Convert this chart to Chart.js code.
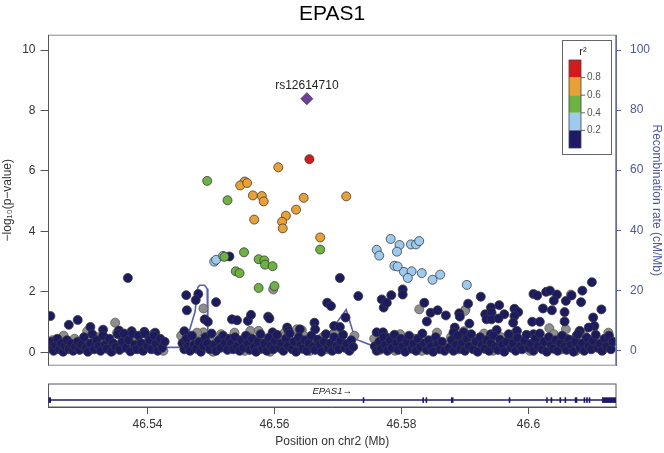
<!DOCTYPE html>
<html><head><meta charset="utf-8">
<script src="https://cdn.jsdelivr.net/npm/chart.js@4.4.1/dist/chart.umd.min.js"></script>
<style>
html,body{margin:0;padding:0;background:#fff;width:664px;height:453px;overflow:hidden}
#main{position:absolute;left:0;top:0}
#gene{position:absolute;left:0;top:372px}
</style></head><body>
<canvas id="main" width="664" height="372"></canvas>
<canvas id="gene" width="664" height="81"></canvas>
<script>
// ---------- axis ranges / ticks ----------
const xMin = 46.5244, xMax = 46.6138;
const xTicks = [46.54, 46.56, 46.58, 46.6];
const pTicks = [0, 2, 4, 6, 8, 10];
const recTicks = [0, 20, 40, 60, 80, 100];
const pMin = -0.426, pMax = 10.49;
const recMin = -4.95, recMax = 104.95;

// ---------- legend key ----------
const ldBreaks = [0.8, 0.6, 0.4, 0.2];
const ldColors = ['#D7191C', '#EBA033', '#6DB33F', '#9DCBF0', '#1E1A66'];

// ---------- lead SNP ----------
const leadName = 'rs12614710';
const leadSnp = [[46.5651, 8.39]];

// ---------- SNPs by LD bin: [position Mb, -log10 p] ----------
const redSnps = [[46.5655, 6.39]];
const orangeSnps = [[46.5606,6.12],[46.5553,5.65],[46.5546,5.52],[46.5557,5.60],[46.5566,5.19],[46.5580,5.17],[46.5583,4.99],[46.5646,5.11],[46.5713,5.16],[46.5634,4.72],[46.5618,4.52],[46.5612,4.32],[46.5613,4.10],[46.5568,4.39],[46.5672,3.80]];
const greenSnps = [[46.5494,5.67],[46.5526,5.03],[46.5672,3.40],[46.5521,3.16],[46.5552,3.31],[46.5575,3.08],[46.5584,3.04],[46.5585,2.90],[46.5597,2.85],[46.5539,2.68],[46.5545,2.62],[46.5575,2.13],[46.5600,2.19]];
const lightBlueSnps = [[46.5505,3.00],[46.5508,3.06],[46.5519,3.19],[46.5783,3.75],[46.5761,3.39],[46.5765,3.20],[46.5797,3.55],[46.5793,3.33],[46.5815,3.57],[46.5823,3.57],[46.5828,3.68],[46.5789,2.86],[46.5794,2.84],[46.5804,2.66],[46.5816,2.68],[46.5810,2.46],[46.5832,2.62],[46.5849,2.40],[46.5861,2.57],[46.5903,2.23]];
const navySnps = [
[46.5247,1.20],[46.5276,0.91],[46.5290,1.07],[46.5310,0.84],[46.5369,2.46],[46.5330,0.75],[46.5355,0.72],[46.5375,0.70],[46.5395,0.68],[46.5412,0.65],
[46.5246,0.15],[46.5249,0.35],[46.5252,0.05],[46.5255,0.25],[46.5258,0.45],[46.5261,0.10],[46.5264,0.30],[46.5267,0.02],[46.5270,0.20],[46.5273,0.40],[46.5276,0.12],[46.5280,0.28],[46.5283,0.05],[46.5286,0.18],[46.5290,0.35],[46.5293,0.08],[46.5296,0.25],[46.5300,0.50],[46.5303,0.15],[46.5306,0.02],[46.5310,0.30],[46.5313,0.60],[46.5316,0.10],[46.5320,0.40],[46.5323,0.20],[46.5326,0.05],[46.5330,0.55],[46.5333,0.25],[46.5336,0.12],[46.5340,0.45],[46.5343,0.02],[46.5346,0.30],[46.5350,0.18],[46.5353,0.60],[46.5356,0.08],[46.5360,0.35],[46.5363,0.62],[46.5366,0.15],[46.5370,0.40],[46.5373,0.03],[46.5376,0.62],[46.5380,0.25],[46.5383,0.10],[46.5386,0.55],[46.5390,0.30],[46.5393,0.05],[46.5396,0.62],[46.5400,0.20],[46.5403,0.40],[46.5406,0.10],[46.5410,0.55],[46.5413,0.28],[46.5416,0.05],[46.5420,0.45],[46.5423,0.15],[46.5427,0.35],
[46.5461,1.89],[46.5480,1.93],[46.5476,1.73],[46.5462,1.39],[46.5508,1.66],[46.5490,1.09],[46.5495,1.01],[46.5458,0.70],[46.5529,3.17],
[46.5455,0.30],[46.5458,0.10],[46.5461,0.45],[46.5464,0.20],[46.5467,0.05],[46.5470,0.55],[46.5473,0.25],[46.5477,0.12],[46.5481,0.35],[46.5484,0.02],[46.5488,0.20],[46.5491,0.50],[46.5494,0.30],[46.5498,0.10],[46.5501,0.62],[46.5505,0.25],[46.5508,0.05],[46.5512,0.40],[46.5515,0.15],[46.5519,0.55],[46.5522,0.30],[46.5526,0.08],[46.5529,0.45],
[46.5533,1.09],[46.5541,1.06],[46.5558,1.04],[46.5563,1.24],[46.5590,1.18],[46.5592,1.12],[46.5683,1.64],[46.5689,1.53],[46.5703,2.46],[46.5663,0.98],[46.5620,0.82],[46.5622,0.71],[46.5597,0.66],[46.5640,0.76],[46.5664,0.76],[46.5694,0.87],[46.5703,0.84],[46.5732,1.86],[46.5712,1.15],
[46.5532,0.30],[46.5535,0.10],[46.5538,0.50],[46.5541,0.20],[46.5545,0.05],[46.5548,0.40],[46.5551,0.15],[46.5555,0.55],[46.5558,0.28],[46.5561,0.08],[46.5565,0.45],[46.5568,0.18],[46.5571,0.02],[46.5574,0.35],[46.5578,0.60],[46.5581,0.12],[46.5584,0.30],[46.5588,0.05],[46.5591,0.48],[46.5594,0.22],[46.5598,0.10],[46.5601,0.38],[46.5604,0.58],[46.5608,0.15],[46.5611,0.30],[46.5614,0.05],[46.5618,0.45],[46.5621,0.20],[46.5624,0.62],[46.5628,0.10],[46.5631,0.35],[46.5634,0.02],[46.5638,0.50],[46.5641,0.25],[46.5644,0.12],[46.5648,0.40],[46.5651,0.05],[46.5654,0.30],[46.5658,0.55],[46.5661,0.18],[46.5664,0.08],[46.5668,0.42],[46.5671,0.25],[46.5674,0.02],[46.5678,0.35],[46.5681,0.60],[46.5684,0.15],[46.5688,0.30],[46.5691,0.05],[46.5694,0.50],[46.5698,0.20],[46.5701,0.10],[46.5704,0.38],[46.5708,0.58],[46.5711,0.15],[46.5714,0.28],[46.5718,0.05],[46.5721,0.40],[46.5724,0.18],
[46.5761,0.66],[46.5771,0.66],[46.5777,0.49],[46.5769,1.75],[46.5772,1.48],[46.5777,1.64],[46.5784,1.89],[46.5802,2.08],[46.5802,1.91],[46.5836,1.64],[46.5840,1.02],[46.5846,1.31],[46.5857,1.39],[46.5870,1.22],[46.5891,1.29],[46.5892,1.18],[46.5905,1.61],[46.5925,1.84],[46.5907,0.95],[46.5884,0.82],[46.5882,0.66],[46.5898,0.66],[46.5893,0.44],
[46.5932,1.26],[46.5941,1.48],[46.5942,1.31],[46.5954,1.56],[46.5934,1.09],[46.5942,1.09],[46.5962,1.26],[46.5978,1.44],[46.5984,1.33],[46.5978,1.20],[46.5976,0.98],[46.5953,1.12],[46.5941,0.60],[46.5950,0.74],[46.5971,0.49],[46.5982,0.71],
[46.6008,1.93],[46.6014,1.88],[46.6028,2.00],[46.6034,2.04],[46.6045,1.91],[46.6040,1.71],[46.6023,1.45],[46.6037,1.39],[46.6006,1.01],[46.6018,1.01],[46.6059,1.70],[46.6057,1.33],[46.6057,1.02],[46.6068,1.88],[46.6085,2.04],[46.6100,2.32],[46.6083,1.66],[46.6115,1.42],[46.6102,1.15],[46.6104,0.87],[46.6095,0.82],[46.6008,0.60],[46.6017,0.44],[46.6061,0.44],[46.6076,0.55],[46.6081,0.71],[46.6092,0.47],
[46.5758,0.20],[46.5761,0.05],[46.5765,0.35],[46.5768,0.12],[46.5772,0.50],[46.5775,0.25],[46.5778,0.05],[46.5782,0.40],[46.5785,0.15],[46.5789,0.58],[46.5792,0.30],[46.5795,0.08],[46.5799,0.45],[46.5802,0.20],[46.5806,0.02],[46.5809,0.35],[46.5812,0.55],[46.5816,0.12],[46.5819,0.28],[46.5823,0.05],[46.5826,0.45],[46.5830,0.18],[46.5833,0.62],[46.5836,0.30],[46.5840,0.08],[46.5843,0.40],[46.5847,0.20],[46.5850,0.02],[46.5854,0.50],[46.5857,0.28],[46.5861,0.10],[46.5864,0.35],[46.5868,0.05],[46.5875,0.15],[46.5879,0.40],[46.5882,0.05],[46.5886,0.25],[46.5889,0.55],[46.5893,0.12],[46.5896,0.32],[46.5900,0.05],[46.5903,0.45],[46.5906,0.20],[46.5910,0.60],[46.5913,0.10],[46.5917,0.35],[46.5920,0.02],[46.5924,0.50],[46.5927,0.25],[46.5931,0.12],[46.5934,0.40],[46.5938,0.05],[46.5941,0.30],[46.5945,0.55],[46.5948,0.18],[46.5952,0.08],[46.5955,0.42],[46.5959,0.25],[46.5962,0.02],[46.5966,0.35],[46.5969,0.60],[46.5973,0.15],[46.5976,0.30],[46.5980,0.05],[46.5983,0.48],[46.5987,0.20],[46.5990,0.10],[46.5994,0.38],[46.5997,0.58],[46.6001,0.15],[46.6004,0.28],[46.6008,0.05],[46.6011,0.45],[46.6015,0.20],[46.6018,0.62],[46.6022,0.10],[46.6025,0.35],[46.6029,0.02],[46.6032,0.50],[46.6036,0.25],[46.6039,0.12],[46.6043,0.40],[46.6046,0.05],[46.6050,0.30],[46.6053,0.55],[46.6057,0.18],[46.6060,0.08],[46.6064,0.42],[46.6067,0.25],[46.6071,0.02],[46.6074,0.35],[46.6078,0.60],[46.6081,0.15],[46.6085,0.30],[46.6088,0.05],[46.6092,0.48],[46.6095,0.20],[46.6099,0.10],[46.6102,0.38],[46.6106,0.58],[46.6109,0.15],[46.6113,0.28],[46.6116,0.05],[46.6120,0.45],[46.6123,0.20],[46.6127,0.55],[46.6130,0.10],[46.6133,0.35]
];
const graySnps = [
[46.5349,0.98],[46.5488,1.45],[46.5488,0.66],[46.5598,2.08],[46.5828,1.42],[46.5901,1.42],[46.6067,1.91],[46.6059,0.76],[46.6033,0.80],[46.6080,0.68],[46.5307,0.71],[46.5562,0.71],[46.5575,0.71],[46.5635,0.76],[46.5643,0.73],[46.5900,1.37],
[46.5250,0.40],[46.5258,0.20],[46.5268,0.55],[46.5275,0.10],[46.5285,0.45],[46.5298,0.25],[46.5305,0.70],[46.5315,0.15],[46.5322,0.50],[46.5335,0.35],[46.5345,0.05],[46.5352,0.65],[46.5362,0.45],[46.5372,0.20],[46.5381,0.50],[46.5392,0.10],[46.5401,0.35],[46.5409,0.60],[46.5418,0.20],[46.5425,0.05],
[46.5453,0.55],[46.5466,0.35],[46.5478,0.65],[46.5486,0.20],[46.5497,0.45],[46.5503,0.02],[46.5516,0.60],[46.5525,0.25],
[46.5537,0.65],[46.5547,0.30],[46.5553,0.05],[46.5560,0.50],[46.5567,0.25],[46.5576,0.10],[46.5583,0.45],[46.5593,0.02],[46.5603,0.20],[46.5610,0.48],[46.5616,0.65],[46.5626,0.30],[46.5636,0.15],[46.5646,0.55],[46.5656,0.05],[46.5666,0.30],[46.5676,0.50],[46.5685,0.10],[46.5696,0.62],[46.5706,0.30],[46.5716,0.10],[46.5726,0.55],
[46.5757,0.45],[46.5766,0.08],[46.5779,0.30],[46.5790,0.05],[46.5798,0.60],[46.5810,0.20],[46.5821,0.45],[46.5832,0.05],[46.5845,0.30],[46.5856,0.65],[46.5866,0.20],[46.5878,0.50],[46.5890,0.10],[46.5898,0.70],[46.5909,0.35],[46.5921,0.15],[46.5930,0.62],[46.5944,0.05],[46.5957,0.50],[46.5968,0.20],[46.5979,0.65],[46.5991,0.30],[46.6002,0.05],[46.6013,0.55],[46.6027,0.20],[46.6040,0.60],[46.6052,0.10],[46.6062,0.40],[46.6075,0.05],[46.6086,0.62],[46.6097,0.25],[46.6108,0.45],[46.6118,0.10],[46.6126,0.65]
];

// ---------- recombination rate (cM/Mb) ----------
const recombPos  = [46.5244,46.5457,46.5466,46.5475,46.5479,46.5482,46.5490,46.5494,46.5495,46.5538,46.5570,46.5590,46.5606,46.5631,46.5647,46.5672,46.5685,46.5713,46.5727,46.5761,46.5871,46.6138];
const recombRate = [1.0,1.0,6.5,13.0,20.8,21.7,21.7,20.5,1.0,0.5,1.0,4.5,4.8,1.5,1.0,1.0,5.4,13.6,3.8,1.0,0.1,0.2];

// ---------- gene track ----------
const geneName = 'EPAS1';
const geneStart = 46.5244, geneEnd = 46.6138;
const exonStart = [46.5244,46.5739,46.5833,46.5838,46.5878,46.5969,46.6028,46.6035,46.6049,46.6057,46.6073,46.6087,46.6091,46.6095,46.6116];
const exonEnd   = [46.5248,46.5741,46.5835,46.5840,46.5882,46.5971,46.6030,46.6037,46.6051,46.6059,46.6077,46.6089,46.6093,46.6097,46.6138];

const FONT = "'Liberation Sans', Arial, Helvetica, sans-serif";
Chart.defaults.font.family = FONT;
Chart.defaults.color = '#333';

const toPts = arr => arr.map(p => ({x: p[0], y: p[1]}));
const NAVY_LINE = '#1E1A66';
const REC_COLOR = '#5660B8';
const noPad = s => { s.paddingTop = 0; s.paddingBottom = 0; };

function snpSet(data, color, order, extra) {
  return Object.assign({
    data: toPts(data), backgroundColor: color, borderColor: '#3a3a3a', borderWidth: 0.8,
    pointRadius: 4.5, pointHoverRadius: 4.5, order: order, yAxisID: 'y'
  }, extra || {});
}

const framePlugin = {
  id: 'frame',
  afterDatasetsDraw(chart) {
    const {ctx, chartArea: a, scales} = chart;
    ctx.save();
    ctx.strokeStyle = '#8a8a8a'; ctx.lineWidth = 1;
    ctx.strokeRect(a.left, a.top, a.right - a.left, a.bottom - a.top);
    ctx.strokeStyle = '#555'; ctx.beginPath(); ctx.moveTo(a.left, a.top); ctx.lineTo(a.left, a.bottom); ctx.stroke();
    ctx.strokeStyle = REC_COLOR; ctx.beginPath(); ctx.moveTo(a.right, a.top); ctx.lineTo(a.right, a.bottom); ctx.stroke();
    // lead SNP label
    const lx = scales.x.getPixelForValue(leadSnp[0][0]);
    const ly = scales.y.getPixelForValue(leadSnp[0][1]);
    ctx.fillStyle = '#222'; ctx.font = '12px ' + FONT; ctx.textAlign = 'center'; ctx.textBaseline = 'middle';
    ctx.fillText(leadName, lx, ly - 12.5);
    // LD legend key
    const bx = 562, by = 40, bw = 49, bh = 114;
    ctx.fillStyle = '#fff'; ctx.fillRect(bx, by, bw, bh);
    ctx.strokeStyle = '#666'; ctx.lineWidth = 1; ctx.strokeRect(bx + 0.5, by + 0.5, bw, bh);
    const cx = 569, cw = 12, cy0 = 60, ch = 17.6;
    for (let i = 0; i < ldColors.length; i++) {
      ctx.fillStyle = ldColors[i]; ctx.fillRect(cx, cy0 + i * ch, cw, ch);
    }
    ctx.strokeStyle = '#444'; ctx.lineWidth = 0.8; ctx.strokeRect(cx, cy0, cw, ch * ldColors.length);
    ctx.fillStyle = '#555'; ctx.font = '10px ' + FONT; ctx.textAlign = 'left'; ctx.textBaseline = 'middle';
    ldBreaks.forEach((v, i) => {
      const yy = cy0 + (i + 1) * ch;
      ctx.beginPath(); ctx.moveTo(cx + cw, yy); ctx.lineTo(cx + cw + 4, yy); ctx.stroke();
      ctx.fillText(v.toFixed(1), cx + cw + 6, yy);
    });
    ctx.fillStyle = '#222'; ctx.font = '11px ' + FONT; ctx.textAlign = 'center';
    ctx.fillText('r\u00B2', 583, 52);
    ctx.restore();
  }
};

new Chart(document.getElementById('main'), {
  type: 'scatter',
  data: {
    datasets: [
      snpSet(leadSnp, '#6F3FA0', 0, {pointStyle: 'rectRot', pointRadius: 6, pointHoverRadius: 6}),
      snpSet(redSnps, ldColors[0], 1),
      snpSet(orangeSnps, ldColors[1], 2),
      snpSet(greenSnps, ldColors[2], 3),
      snpSet(lightBlueSnps, ldColors[3], 4),
      snpSet(navySnps, '#1C1A62', 5),
      snpSet(graySnps, '#8E8E8E', 6, {borderColor: '#5a5a5a'}),
      {
        data: recombPos.map((p, i) => ({x: p, y: recombRate[i]})),
        showLine: true, borderColor: REC_COLOR, borderWidth: 1.6, pointRadius: 0,
        yAxisID: 'y2', order: 7, fill: false, tension: 0
      }
    ]
  },
  options: {
    responsive: false, animation: false, devicePixelRatio: 1,
    layout: {padding: {top: 0, bottom: 4, left: 0, right: 0}},
    plugins: {
      legend: {display: false}, tooltip: {enabled: false},
      title: {display: true, text: geneName, color: '#000', font: {size: 21, weight: 'normal'}, padding: {top: 2, bottom: 8}}
    },
    scales: {
      x: {type: 'linear', min: xMin, max: xMax, display: false},
      y: {
        position: 'left', min: pMin, max: pMax,
        afterBuildTicks: s => { s.ticks = pTicks.map(v => ({value: v})); },
        afterFit: s => { s.width = 48.5; noPad(s); },
        grid: {drawOnChartArea: false, drawTicks: true, tickLength: 8, color: '#555'},
        border: {display: true, color: '#555'},
        ticks: {color: '#333', font: {size: 12}, padding: 5},
        title: {display: true, text: '\u2212log\u2081\u2080(p\u2212value)', color: '#333', font: {size: 12}, padding: {top: 0, bottom: 0}}
      },
      y2: {
        position: 'right', min: recMin, max: recMax,
        afterBuildTicks: s => { s.ticks = recTicks.map(v => ({value: v})); },
        afterFit: s => { s.width = 48; noPad(s); },
        grid: {drawOnChartArea: false, drawTicks: true, tickLength: 5, color: REC_COLOR},
        border: {display: true, color: REC_COLOR},
        ticks: {color: '#4C55A6', font: {size: 12}, padding: 9},
        title: {display: true, text: 'Recombination rate (cM/Mb)', color: '#4C55A6', font: {size: 12}, padding: {top: 0, bottom: 0}}
      }
    }
  },
  plugins: [framePlugin]
});

const genePlugin = {
  id: 'genetrack',
  afterDatasetsDraw(chart) {
    const {ctx, chartArea: a, scales} = chart;
    ctx.save();
    ctx.strokeStyle = '#555'; ctx.lineWidth = 1;
    ctx.strokeRect(a.left, a.top, a.right - a.left, a.bottom - a.top);
    const yc = scales.y.getPixelForValue(0.3);
    ctx.fillStyle = NAVY_LINE;
    for (let i = 0; i < exonStart.length; i++) {
      const x0 = scales.x.getPixelForValue(exonStart[i]);
      const x1 = scales.x.getPixelForValue(exonEnd[i]);
      const w = Math.max(1.6, x1 - x0);
      ctx.fillRect(x0, yc - 2.8, w, 5.6);
    }
    const tx = scales.x.getPixelForValue((geneStart + geneEnd) / 2);
    const ty = scales.y.getPixelForValue(0.665);
    ctx.fillStyle = '#222'; ctx.font = 'italic 9.5px ' + FONT; ctx.textAlign = 'center'; ctx.textBaseline = 'middle';
    ctx.fillText(geneName + '\u2192', tx, ty);
    ctx.restore();
  }
};

new Chart(document.getElementById('gene'), {
  type: 'scatter',
  data: {
    datasets: [{
      data: [{x: geneStart, y: 0.3}, {x: geneEnd, y: 0.3}],
      showLine: true, borderColor: NAVY_LINE, borderWidth: 1.5, pointRadius: 0
    }]
  },
  options: {
    responsive: false, animation: false, devicePixelRatio: 1,
    layout: {padding: {top: 12, bottom: 0, left: 48.5, right: 48}},
    plugins: {legend: {display: false}, tooltip: {enabled: false}},
    scales: {
      x: {
        type: 'linear', min: xMin, max: xMax,
        afterBuildTicks: s => { s.ticks = xTicks.map(v => ({value: v})); },
        afterFit: s => { s.height = 46; s.paddingLeft = 0; s.paddingRight = 0; },
        grid: {drawOnChartArea: false, drawTicks: true, tickLength: 7, color: '#555'},
        border: {display: true, color: '#555'},
        ticks: {color: '#333', font: {size: 12}, padding: 3, maxRotation: 0, callback: v => String(v)},
        title: {display: true, text: 'Position on chr2 (Mb)', color: '#333', font: {size: 12}, padding: {top: 0, bottom: 4}}
      },
      y: {display: false, min: 0, max: 1}
    }
  },
  plugins: [genePlugin]
});
</script>
</body></html>
